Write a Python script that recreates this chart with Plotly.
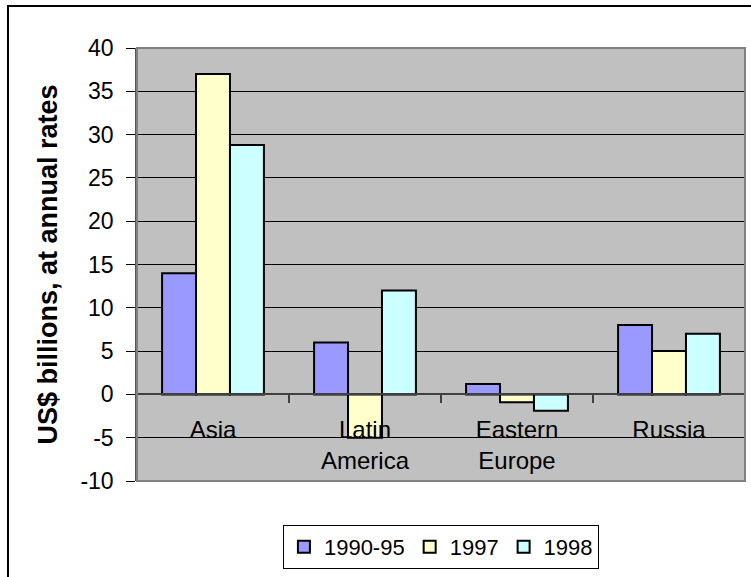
import plotly.graph_objects as go

# Net capital flows by region
regions = ["Asia", "Latin<br>America", "Eastern<br>Europe", "Russia"]
series_names = ["1990-95", "1997", "1998"]
flows_1990_95 = [14.0, 6.0, 1.2, 8.0]
flows_1997 = [37.0, -5.0, -0.9, 5.0]
flows_1998 = [28.8, 12.0, -1.9, 7.0]
series_values = [flows_1990_95, flows_1997, flows_1998]
series_colors = ["#9999FF", "#FFFFCC", "#CCFFFF"]
y_ticks = [-10, -5, 0, 5, 10, 15, 20, 25, 30, 35, 40]
y_tick_text = ["-10", "-5", "0", "5", "10", "15", "20", "25", "30", "35", "40"]

FONT = "Liberation Sans, Arial, sans-serif"
Y_MIN, Y_MAX = -10, 40

fig = go.Figure()
for name, vals, col in zip(series_names, series_values, series_colors):
    fig.add_trace(go.Bar(
        x=regions, y=vals, name=name,
        marker=dict(color=col, line=dict(color="#000000", width=2)),
    ))

zero_pos = (0 - Y_MIN) / (Y_MAX - Y_MIN)

fig.update_layout(
    width=751, height=577,
    margin=dict(l=137, r=6, t=48, b=96),
    paper_bgcolor="#FFFFFF",
    plot_bgcolor="#C0C0C0",
    barmode="group", bargap=0.33, bargroupgap=0,
    font=dict(family=FONT, color="#000000", size=22),
    showlegend=True,
    legend=dict(
        orientation="h", x=0.24, xanchor="left", y=-0.1016, yanchor="top",
        bordercolor="#000000", borderwidth=1, bgcolor="#FFFFFF",
        font=dict(size=22, family=FONT), itemwidth=30,
        tracegroupgap=0,
    ),
    xaxis=dict(
        anchor="free", position=zero_pos,
        showline=True, linecolor="#404040", linewidth=1.5,
        ticks="outside", tickson="boundaries", ticklen=8, tickcolor="#404040",
        tickwidth=1.5, showgrid=False, zeroline=False,
        tickfont=dict(size=24, family=FONT), ticklabelstandoff=14,
        automargin=False,
    ),
    yaxis=dict(
        range=[Y_MIN, Y_MAX], tickvals=y_ticks, ticktext=y_tick_text,
        showline=True, linecolor="#555555", linewidth=1.5,
        ticks="outside", ticklen=9, tickcolor="#000000", tickwidth=1,
        showgrid=True, gridcolor="#000000", gridwidth=1, zeroline=False,
        tickfont=dict(size=23, family=FONT), ticklabelstandoff=8,
        title=dict(text="<b>US$ billions, at annual rates</b>",
                   font=dict(size=27, family=FONT), standoff=15),
        automargin=False,
    ),
)

# Plot area frame
fig.add_shape(type="rect", xref="x domain", yref="y domain",
              x0=0, x1=1, y0=0, y1=1,
              line=dict(color="#808080", width=2), layer="above")
# Outer chart frame
fig.add_shape(type="rect", xref="paper", yref="paper",
              x0=-0.2122, x1=1.05, y0=-0.35, y1=1.097,
              line=dict(color="#000000", width=2), layer="above")

fig.write_html("out.html")
